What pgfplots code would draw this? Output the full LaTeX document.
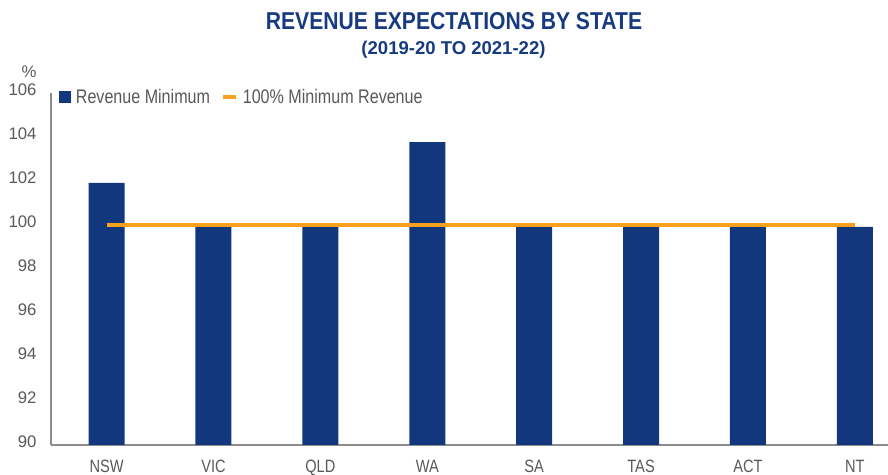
\documentclass[border=0pt]{standalone}
\usepackage{fontspec}
\setmainfont{Liberation Sans}[FakeStretch=0.82]
\newfontfamily\numfont{Liberation Sans}
\newfontfamily\titlefont{Liberation Sans}[FakeStretch=0.865]
\usepackage{pgfplots}
\pgfplotsset{compat=1.18}
\definecolor{navy}{HTML}{13377C}
\definecolor{orng}{HTML}{F7A01E}
\definecolor{txt}{HTML}{595959}
\definecolor{axl}{HTML}{8C8C8C}
\definecolor{ttl}{HTML}{173A80}
\begin{document}
\begin{tikzpicture}
\path[use as bounding box] (0,0) rectangle (888bp,475bp);
\node[text=ttl, font=\titlefont\fontsize{24.5}{28}\selectfont\bfseries] at (454bp,454bp) {REVENUE EXPECTATIONS BY STATE};
\node[text=ttl, font=\numfont\fontsize{18.6}{22}\selectfont\bfseries] at (453.5bp,425bp) {(2019-20 TO 2021-22)};
\node[text=txt, font=\numfont\fontsize{16.8}{18}\selectfont] at (29bp,403bp) {\%};
\begin{axis}[
 at={(51bp,30bp)}, anchor=south west,
 scale only axis, width=837bp, height=352bp,
 xmin=-0.52, xmax=7.31, ymin=90, ymax=106,
 axis x line*=bottom, axis y line*=left,
 axis line style={axl, line width=1.3bp, -},
 ytick={90,92,...,106},
 xtick={0,...,7},
 xticklabels={NSW,VIC,QLD,WA,SA,TAS,ACT,NT},
 major tick length=0pt,
 /pgf/number format/assume math mode=true,
 yticklabel style={font=\numfont\fontsize{16.8}{18}\selectfont, text=txt, xshift=-11bp, yshift=3bp},
 xticklabel style={font=\fontsize{17.9}{19}\selectfont, text=txt, yshift=-12bp},
 legend style={at={(0,1)}, anchor=west, xshift=8bp, yshift=-4bp, draw=none, fill=none, inner sep=0pt, font=\fontsize{19.7}{21}\selectfont, text=txt, legend columns=2, /tikz/every odd column/.append style={column sep=3bp}, /tikz/every even column/.append style={column sep=9bp}},
]
\addplot[ybar, bar width=36bp, bar shift=0pt, fill=navy, draw=none, legend image code/.code={\fill[navy] (0bp,-5.8bp) rectangle (11.7bp,5.8bp);}] coordinates {(0,101.92) (1,99.9) (2,99.9) (3,103.77) (4,99.9) (5,99.9) (6,99.9) (7,99.92)};
\addlegendentry{Revenue Minimum}
\addplot[orng, line width=3.8bp, legend image code/.code={\draw[orng, line width=3.8bp] (0bp,0bp) -- (13bp,0bp);}] coordinates {(0,100) (7,100)};
\addlegendentry{100\% Minimum Revenue}
\end{axis}
\end{tikzpicture}
\end{document}
